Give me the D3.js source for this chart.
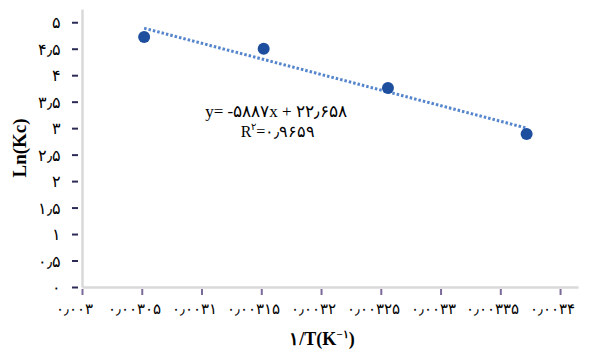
<!DOCTYPE html>
<html>
<head>
<meta charset="utf-8">
<script src="https://cdn.jsdelivr.net/npm/d3@7"></script>
<style>
  body { margin: 0; background: #fff; }
  text { font-family: "Liberation Serif", "DejaVu Serif", serif; }
</style>
</head>
<body>
<svg id="chart"></svg>
<script>
// data
const invT = [0.003052, 0.003152, 0.003256, 0.003372];
const lnKc = [4.72, 4.50, 3.76, 2.89];

const yTicks = [0, 0.5, 1, 1.5, 2, 2.5, 3, 3.5, 4, 4.5, 5];
const yTickLabels = ["۰", "۰٫۵", "۱", "۱٫۵", "۲", "۲٫۵", "۳", "۳٫۵", "۴", "۴٫۵", "۵"];
const xTicks = [0.003, 0.00305, 0.0031, 0.00315, 0.0032, 0.00325, 0.0033, 0.00335, 0.0034];
const xTickLabels = ["۰٫۰۰۳", "۰٫۰۰۳۰۵", "۰٫۰۰۳۱", "۰٫۰۰۳۱۵", "۰٫۰۰۳۲", "۰٫۰۰۳۲۵", "۰٫۰۰۳۳", "۰٫۰۰۳۳۵", "۰٫۰۰۳۴"];

const eqText = "y= -۵۸۸۷x + ۲۲٫۶۵۸";
const r2Label = "۰٫۹۶۵۹";

const W = 594, H = 350;
const svg = d3.select("#chart").attr("width", W).attr("height", H);

const x = d3.scaleLinear().domain([0.003, 0.003415]).range([82, 578]);
const y = d3.scaleLinear().domain([0, 5.25]).range([287, 9]);

// axes
const yAxis = svg.append("g")
  .attr("transform", `translate(${x(0.003)},0)`)
  .call(d3.axisLeft(y).tickValues(yTicks).tickSize(0)
    .tickFormat((d, i) => yTickLabels[i]));
yAxis.select(".domain").attr("stroke", "#d9d9d9").attr("stroke-width", 2.5);
yAxis.selectAll("text").attr("x", -21).attr("dy", "0.35em")
  .style("font-size", "16px").attr("fill", "#000");
yAxis.selectAll(".tick").append("line")
  .attr("x1", -10).attr("x2", -4)
  .attr("stroke", "#2b2b55").attr("stroke-width", 2);

const xAxis = svg.append("g")
  .attr("transform", `translate(0,${y(0)})`)
  .call(d3.axisBottom(x).tickValues(xTicks).tickSize(0)
    .tickFormat((d, i) => xTickLabels[i]));
xAxis.select(".domain").attr("stroke", "#d9d9d9").attr("stroke-width", 2.5);
xAxis.selectAll("text").attr("y", 16).attr("dy", "0.71em").attr("dx", -8)
  .style("font-size", "15px").attr("fill", "#000");
xAxis.selectAll(".tick").append("line")
  .attr("y1", 2).attr("y2", 8)
  .attr("stroke", "#7a6a9a").attr("stroke-width", 2);

// trend line (least squares over the points)
const mx = d3.mean(invT), my = d3.mean(lnKc);
const sxy = d3.sum(invT, (v, i) => (v - mx) * (lnKc[i] - my));
const sxx = d3.sum(invT, v => (v - mx) * (v - mx));
const slope = sxy / sxx, icpt = my - slope * mx;
const xEnds = d3.extent(invT);

svg.append("line")
  .attr("x1", x(xEnds[0])).attr("y1", y(slope * xEnds[0] + icpt))
  .attr("x2", x(xEnds[1])).attr("y2", y(slope * xEnds[1] + icpt))
  .attr("stroke", "#5585cc")
  .attr("stroke-width", 3)
  .attr("stroke-dasharray", "2.5,2");

// points
svg.selectAll("circle.pt")
  .data(invT)
  .enter().append("circle")
  .attr("class", "pt")
  .attr("cx", d => x(d))
  .attr("cy", (d, i) => y(lnKc[i]))
  .attr("r", 6)
  .attr("fill", "#1d4f9e");

// equation
svg.append("text")
  .attr("x", 276).attr("y", 117)
  .attr("text-anchor", "middle")
  .style("font-size", "17px")
  .text(eqText);

const r2 = svg.append("text")
  .attr("x", 278).attr("y", 137)
  .attr("text-anchor", "middle")
  .style("font-size", "16px");
r2.append("tspan").text("R");
r2.append("tspan").attr("dy", -7).style("font-size", "10px").text("۲");
r2.append("tspan").attr("dy", 7).text("=" + r2Label);

// axis titles
svg.append("text")
  .attr("transform", "translate(26,148) rotate(-90)")
  .attr("text-anchor", "middle")
  .style("font-size", "19px")
  .style("font-weight", "bold")
  .text("Ln(Kc)");

const xt = svg.append("text")
  .attr("x", 322).attr("y", 345)
  .attr("text-anchor", "middle")
  .style("font-size", "18px")
  .style("font-weight", "bold");
xt.append("tspan").text("۱/T(K");
xt.append("tspan").attr("dy", -7).style("font-size", "11px").text("−۱");
xt.append("tspan").attr("dy", 7).text(")");
</script>
</body>
</html>
